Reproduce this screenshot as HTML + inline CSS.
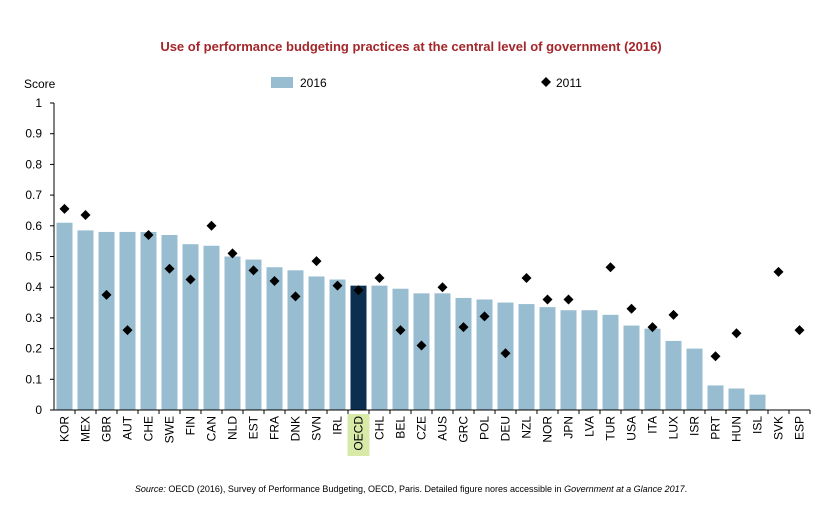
<!DOCTYPE html>
<html><head><meta charset="utf-8"><style>
body{margin:0;background:#fff;width:822px;height:517px;overflow:hidden;font-family:"Liberation Sans",sans-serif}
</style></head><body>
<svg width="822" height="517" id="c">
<text x="411" y="51" text-anchor="middle" font-size="13" font-weight="bold" fill="#a3262a">Use of performance budgeting practices at the central level of government (2016)</text>
<text x="24" y="88" font-size="12" fill="#000">Score</text>
<g>
<rect x="271" y="77" width="22" height="11" fill="#98bcd0"/>
<text x="300" y="87" font-size="12">2016</text>
<path d="M546 77 l5 5 l-5 5 l-5 -5z" fill="#000"/>
<text x="556" y="87" font-size="12">2011</text>
</g>
<text x="411" y="492" text-anchor="middle" font-size="9"><tspan font-style="italic">Source:</tspan> OECD (2016), Survey of Performance Budgeting, OECD, Paris. Detailed figure nores accessible in <tspan font-style="italic">Government at a Glance 2017</tspan>.</text>
</svg>
<script>
const categories=["KOR","MEX","GBR","AUT","CHE","SWE","FIN","CAN","NLD","EST","FRA","DNK","SVN","IRL","OECD","CHL","BEL","CZE","AUS","GRC","POL","DEU","NZL","NOR","JPN","LVA","TUR","USA","ITA","LUX","ISR","PRT","HUN","ISL","SVK","ESP"];
const values2016=[0.61,0.585,0.58,0.58,0.58,0.57,0.54,0.535,0.50,0.49,0.465,0.455,0.435,0.425,0.405,0.405,0.395,0.38,0.38,0.365,0.36,0.35,0.345,0.335,0.325,0.325,0.31,0.275,0.265,0.225,0.20,0.08,0.07,0.05,null,null];
const values2011=[0.655,0.635,0.375,0.26,0.57,0.46,0.425,0.60,0.51,0.455,0.42,0.37,0.485,0.405,0.39,0.43,0.26,0.21,0.40,0.27,0.305,0.185,0.43,0.36,0.36,null,0.465,0.33,0.27,0.31,null,0.175,0.25,null,0.45,0.26];
const yTicks=["0","0.1","0.2","0.3","0.4","0.5","0.6","0.7","0.8","0.9","1"];
const svg=document.getElementById('c');const NS="http://www.w3.org/2000/svg";
const X0=54,SLOT=21,Y0=410,Y1=103;
const y=v=>Y0-(Y0-Y1)*v;const x=i=>X0+SLOT*i+SLOT/2;
function mk(t,a){const e=document.createElementNS(NS,t);for(const k in a)e.setAttribute(k,a[k]);svg.appendChild(e);return e;}
yTicks.forEach((t,i)=>{const v=parseFloat(t);
const l=mk('line',{x1:X0-4,x2:X0,y1:y(v),y2:y(v),stroke:'#000'});


const tx=mk('text',{x:X0-12,y:y(v)+4,'text-anchor':'end','font-size':12});tx.textContent=t;

});
categories.forEach((c,i)=>{
if(c==="OECD"){const h=mk('rect',{x:x(i)-11,y:414,width:22,height:42,fill:'#d7eaa8'});

}
if(values2016[i]!=null){const b=mk('rect',{x:x(i)-8,y:y(values2016[i]),width:16,height:Y0-y(values2016[i]),fill:c==="OECD"?'#0d2f4f':'#98bcd0'});

}
const tk=mk('line',{x1:X0+SLOT*(i+1),x2:X0+SLOT*(i+1),y1:Y0,y2:Y0+4,stroke:'#000'});


const t=mk('text',{transform:`translate(${x(i)+4},416) rotate(-90)`,'text-anchor':'end','font-size':12});t.textContent=c;

});
categories.forEach((c,i)=>{if(values2011[i]==null)return;const yy=y(values2011[i]),xx=x(i);
const p=mk('path',{d:`M${xx} ${yy-5} l5 5 l-5 5 l-5 -5z`,fill:'#000'});

});
const ya=mk('line',{x1:X0,x2:X0,y1:Y1,y2:Y0,stroke:'#000'});


const xa=mk('line',{x1:X0,x2:X0+SLOT*categories.length,y1:Y0,y2:Y0,stroke:'#000'});


</script>
</body></html>
